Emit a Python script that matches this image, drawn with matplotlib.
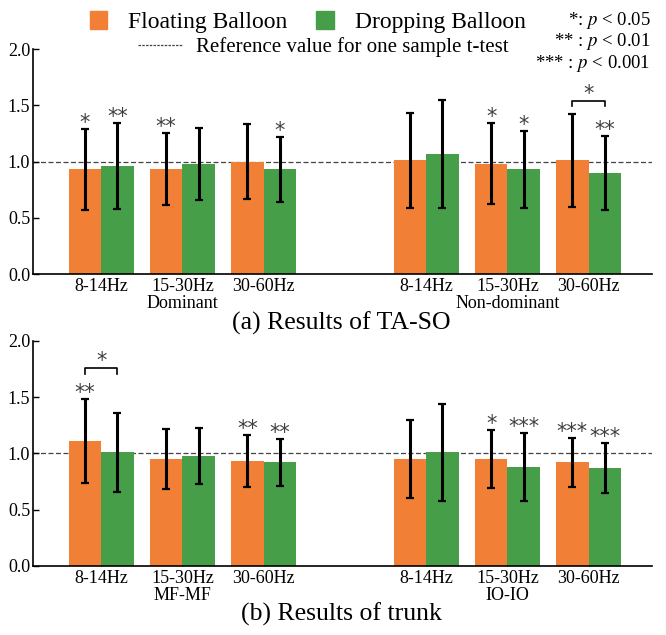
"""Two-panel grouped bar chart: TA-SO and trunk results"""

import matplotlib.pyplot as plt
import numpy as np
from matplotlib.lines import Line2D
from matplotlib.patches import Patch

plt.rcParams["font.family"] = ["Liberation Serif", "DejaVu Serif"]
plt.rcParams["mathtext.fontset"] = "stix"

ORANGE = "#F17F36"
GREEN = "#479E48"
STAR_COLOR = "#404040"

freq_labels = ["8-14Hz", "15-30Hz", "30-60Hz", "8-14Hz", "15-30Hz", "30-60Hz"]
groups_a = ["Dominant", "Non-dominant"]
groups_b = ["MF-MF", "IO-IO"]

# (a) TA-SO
floating_a = [0.93, 0.93, 1.00, 1.01, 0.98, 1.01]
floating_a_err = [0.36, 0.32, 0.33, 0.42, 0.36, 0.41]
dropping_a = [0.96, 0.98, 0.93, 1.07, 0.93, 0.90]
dropping_a_err = [0.38, 0.32, 0.29, 0.48, 0.34, 0.33]
floating_a_sig = ["*", "**", "", "", "*", ""]
dropping_a_sig = ["**", "", "*", "", "*", "**"]
brackets_a = [(5, "*")]

# (b) trunk
floating_b = [1.11, 0.95, 0.93, 0.95, 0.95, 0.92]
floating_b_err = [0.37, 0.27, 0.23, 0.35, 0.26, 0.22]
dropping_b = [1.01, 0.98, 0.92, 1.01, 0.88, 0.87]
dropping_b_err = [0.35, 0.25, 0.21, 0.43, 0.30, 0.22]
floating_b_sig = ["**", "", "**", "", "*", "***"]
dropping_b_sig = ["", "", "**", "", "***", "***"]
brackets_b = [(0, "*")]

x = np.array([0, 1, 2, 4, 5, 6])
width = 0.4


def star_text(ax, xpos, ypos, mark):
    ax.text(xpos, ypos, mark, ha="center", va="baseline", fontsize=15,
            color=STAR_COLOR, family="DejaVu Sans")


def draw_panel(ax, flo, flo_err, dro, dro_err, flo_sig, dro_sig, brackets, groups):
    err_kw = dict(ecolor="black", elinewidth=2.2, capsize=3.0, capthick=1.6)
    ax.bar(x - width / 2, flo, width, color=ORANGE, yerr=flo_err, error_kw=err_kw, zorder=2)
    ax.bar(x + width / 2, dro, width, color=GREEN, yerr=dro_err, error_kw=err_kw, zorder=2)
    ax.axhline(1.0, color="#444444", lw=0.9, ls=(0, (4, 2)), zorder=1)

    flo_top = np.array(flo) + np.array(flo_err)
    dro_top = np.array(dro) + np.array(dro_err)
    for i in range(len(x)):
        if flo_sig[i]:
            star_text(ax, x[i] - width / 2, flo_top[i] + 0.0, flo_sig[i])
        if dro_sig[i]:
            star_text(ax, x[i] + width / 2, dro_top[i] + 0.0, dro_sig[i])

    for i, mark in brackets:
        if flo_top[i] >= dro_top[i]:
            y, has_star = flo_top[i], bool(flo_sig[i])
        else:
            y, has_star = dro_top[i], bool(dro_sig[i])
        y += 0.12 + (0.16 if has_star else 0)
        x0, x1 = x[i] - width / 2, x[i] + width / 2
        ax.plot([x0, x0, x1, x1], [y - 0.05, y, y, y - 0.05], color="black", lw=1.2)
        star_text(ax, x[i], y + 0.005, mark)

    ax.set_xlim(-0.84, 6.78)
    ax.set_ylim(0, 2.0)
    ax.set_yticks([0, 0.5, 1.0, 1.5, 2.0])
    ax.set_yticklabels(["0.0", "0.5", "1.0", "1.5", "2.0"])
    labels = list(freq_labels)
    labels[1] = f"{labels[1]}\n{groups[0]}"
    labels[4] = f"{labels[4]}\n{groups[1]}"
    ax.set_xticks(x)
    ax.set_xticklabels(labels, linespacing=1.0)
    ax.tick_params(direction="in", labelsize=13, length=4, width=1)
    ax.tick_params(axis="x", pad=3)
    ax.tick_params(axis="y", pad=2)
    for side in ("top", "right"):
        ax.spines[side].set_visible(False)
    ax.spines["left"].set_linewidth(1.2)
    ax.spines["bottom"].set_linewidth(1.2)


fig = plt.figure(figsize=(6.66, 6.35), dpi=100)
ax_a = fig.add_axes([0.0495, 0.5685, 0.9295, 0.3543])
ax_b = fig.add_axes([0.0495, 0.1087, 0.9295, 0.3543])

draw_panel(ax_a, floating_a, floating_a_err, dropping_a, dropping_a_err,
           floating_a_sig, dropping_a_sig, brackets_a, groups_a)
draw_panel(ax_b, floating_b, floating_b_err, dropping_b, dropping_b_err,
           floating_b_sig, dropping_b_sig, brackets_b, groups_b)

fig.text(0.513, 0.491, "(a) Results of TA-SO", ha="center", va="center", fontsize=18.5)
fig.text(0.513, 0.032, "(b) Results of trunk", ha="center", va="center", fontsize=18.5)

# legends
handles = [Patch(color=ORANGE, label="Floating Balloon"),
           Patch(color=GREEN, label="Dropping Balloon")]
fig.legend(handles=handles, loc="center", bbox_to_anchor=(0.462, 0.965), ncol=2,
           frameon=False, fontsize=17, handlelength=0.75, handleheight=0.75,
           columnspacing=1.2, handletextpad=0.9, borderpad=0)
ref_line = [Line2D([0], [0], color="#444444", lw=0.9, ls=(0, (2, 1)),
                   label="Reference value for one sample t-test")]
fig.legend(handles=ref_line, loc="center", bbox_to_anchor=(0.485, 0.926),
           frameon=False, fontsize=15, handlelength=2.2, handletextpad=0.6, borderpad=0)

p_lines = ["*: $p$ < 0.05", "** : $p$ < 0.01", "*** : $p$ < 0.001"]
for k, line in enumerate(p_lines):
    fig.text(0.977, 0.968 - k * 0.034, line, ha="right", va="center", fontsize=13.5)

fig.savefig("out.png", dpi=100)
